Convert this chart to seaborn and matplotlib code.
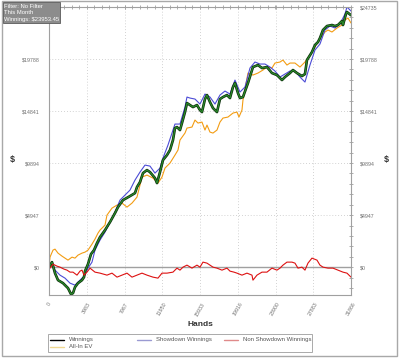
import matplotlib
matplotlib.use("Agg")
import matplotlib.pyplot as plt
import matplotlib.patheffects as pe
from matplotlib.patches import Rectangle
from matplotlib.lines import Line2D
from matplotlib.ticker import MultipleLocator, FuncFormatter
import seaborn as sns

# Winnings
win_hands = [0, 317, 633, 950, 1477, 2005, 2321, 2532, 2743, 3060, 3482, 3693, 3798, 4115, 4431, 4748,
             5064, 5381, 5908, 6436, 6963, 7280, 7807, 8546, 9073, 9284, 9601, 9918, 10339, 10656, 11183,
             11394, 11712, 12027, 12449, 12766, 13082, 13293, 13504, 13821, 14032, 14348, 14559, 14876,
             15192, 15614, 15931, 16141, 16458, 16669, 16985, 17302, 17513, 17724, 18041, 18357, 18779,
             19096, 19412, 19623, 19940, 20151, 20467, 20995, 21522, 22050, 22472, 22999, 23527, 24054,
             24582, 24898, 25426, 25742, 26164, 26692, 27009, 27220, 27748, 28065, 28381, 28592, 28909,
             29331, 29858, 30175, 30491, 30913, 31019, 31334, 31440, 31866]
win_vals = [0, 476, -571, -1237, -1522, -1998, -2569, -2473, -1903, -1522, -1237, -951, -381, 285, 1237,
            1617, 2283, 2854, 3520, 4281, 5137, 5708, 6374, 6754, 7040, 7610, 8086, 8942, 9228, 9037, 8467,
            7991, 9037, 10179, 10655, 11130, 12082, 13223, 13318, 13033, 13699, 14745, 15601, 15411, 15221,
            15411, 14935, 14745, 15982, 16362, 15696, 15126, 14935, 14745, 15982, 16172, 16362, 16077, 17123,
            17504, 16553, 16077, 16172, 17504, 19026, 19216, 18931, 19026, 18455, 18265, 17789, 18075, 18455,
            18741, 18455, 18170, 18360, 19692, 20453, 21119, 21405, 21785, 22546, 22927, 23022, 22927, 23022,
            23402, 23022, 24068, 24258, 23953]

# Showdown winnings
sd_hands = [0, 317, 633, 1161, 1688, 2216, 2743, 3271, 3798, 4115, 4537, 4853, 5381, 5908, 6436, 6963,
            7491, 8018, 8546, 9073, 9601, 10128, 10656, 11183, 11712, 12027, 12554, 13082, 13293, 13821,
            14348, 14559, 14876, 15403, 15931, 16458, 16985, 17513, 18041, 18568, 19096, 19623, 20151,
            20678, 21206, 21733, 22261, 22788, 23316, 23843, 24371, 24898, 25426, 25953, 26481, 27009,
            27537, 28065, 28592, 29120, 29648, 30175, 30702, 31230, 31440, 31866]
sd_vals = [0, 476, -285, -761, -1046, -1522, -1712, -1237, -761, -95, 476, 1617, 2569, 3330, 4281, 5232,
           6374, 6849, 7325, 8276, 9037, 9703, 9608, 8942, 9418, 10369, 11606, 13033, 13604, 13604, 15221,
           16172, 16077, 15982, 15506, 16458, 16172, 15506, 16362, 16743, 16458, 17789, 16648, 17123, 18931,
           19502, 19311, 19311, 19026, 18646, 18075, 18360, 18646, 18646, 18075, 17599, 19216, 20643, 21214,
           22546, 22927, 22736, 23117, 24068, 24735, 24353]

# Non showdown winnings
ns_hands = [0, 106, 422, 844, 1161, 1583, 1899, 2216, 2532, 2954, 3271, 3482, 3693, 4009, 4326, 4853,
            5381, 6119, 6647, 7175, 7702, 8229, 8757, 9284, 9812, 10339, 10972, 11500, 11922, 12449, 13082,
            13504, 13821, 14138, 14559, 15087, 15614, 15931, 16247, 16669, 16985, 17302, 17724, 18252,
            18779, 19096, 19518, 19834, 20362, 20889, 21417, 21522, 21944, 22472, 22999, 23527, 24054,
            24371, 24687, 25109, 25637, 25953, 26270, 26692, 27009, 27326, 27748, 28276, 28592, 28909,
            29437, 29964, 30491, 31019, 31440, 31866]
ns_vals = [0, -95, 285, 95, 0, -190, -285, -476, -476, -761, -380, -285, -761, -476, -95, -476, -571,
           -761, -571, -951, -761, -571, -951, -761, -571, -761, -951, -1046, -571, -571, -476, -95, -285,
           0, 190, -95, 190, 0, 476, 380, 190, 0, -95, -285, -95, -380, -476, -571, -761, -571, -761, -1237,
           -761, -476, -476, -95, -285, -95, 190, 476, 476, 380, -95, 0, -285, 380, 856, 666, 190, 0, -95,
           -95, -285, -476, -571, -951]

# All-in EV
ev_hands = [0, 106, 422, 633, 950, 1372, 1688, 2005, 2427, 2743, 3060, 3482, 3798, 4115, 4537, 4853,
            5170, 5381, 5908, 6119, 6647, 7175, 7702, 8229, 8757, 9284, 9812, 10339, 10972, 11500, 11922,
            12238, 12766, 13293, 13610, 13821, 14348, 14559, 15087, 15403, 15720, 16141, 16458, 16669,
            16985, 17302, 17724, 18041, 18357, 18884, 19412, 19834, 20045, 20362, 20467, 20995, 21522,
            22050, 22577, 22999, 23527, 23843, 24371, 24687, 25109, 25426, 25953, 26481, 27009, 27537,
            28065, 28592, 29120, 29437, 29858, 30386, 30913, 31230, 31545, 31866]
ev_vals = [0, 951, 1617, 1712, 1332, 1046, 856, 666, 951, 856, 1142, 1332, 1427, 1617, 2188, 2664, 3234,
           3520, 3995, 4947, 5613, 5898, 6088, 5708, 6088, 6659, 8562, 8752, 8467, 7991, 8562, 9418, 9894,
           10655, 11130, 12082, 12747, 13223, 13318, 13984, 13699, 13794, 13033, 13509, 12842, 12747, 13033,
           13794, 14174, 14270, 14650, 14745, 14270, 14935, 15887, 18455, 18265, 18455, 18741, 19026, 18931,
           19406, 19502, 19692, 19216, 19406, 19406, 19026, 19502, 20168, 20929, 21785, 22356, 22546, 22356,
           22736, 23022, 23497, 23687, 23212]

x_ticks = [0, 3983, 7967, 11950, 15933, 19916, 23900, 27883, 31866]
y_ticks = [0, 4947, 9894, 14841, 19788, 24735]
info_lines = ["Filter: No Filter", "This Month", "Winnings: $23953.45"]
legend_names = ["Winnings", "Showdown Winnings", "Non Showdown Winnings", "All-In EV"]

sns.set_style("white")
plt.rcParams["font.family"] = ["Liberation Sans", "DejaVu Sans"]

W, H = 400, 358
fig = plt.figure(figsize=(W / 100, H / 100), dpi=100)
ax = fig.add_axes([49 / W, 1 - 295 / H, 302 / W, 288 / H])

def fx(px):
    return px / W

def fy(py):
    return 1 - py / H

grey = "#a0a0a0"
ax.axhline(0, color=grey, lw=1.0, zorder=1)

sns.lineplot(x=ev_hands, y=ev_vals, ax=ax, color="#f39c12", lw=0.8, estimator=None, sort=False)
sns.lineplot(x=sd_hands, y=sd_vals, ax=ax, color="#4b4bd6", lw=0.8, estimator=None, sort=False)
sns.lineplot(x=win_hands, y=win_vals, ax=ax, color="#2a8a2a", lw=0.9, estimator=None, sort=False,
             path_effects=[pe.Stroke(linewidth=1.9, foreground="#0a2a0a"), pe.Normal()])
sns.lineplot(x=ns_hands, y=ns_vals, ax=ax, color="#dd1111", lw=0.8, estimator=None, sort=False)

ax.set_xlim(0, 31866)
ax.set_ylim(-2650, 24735)
ax.set_xticks(x_ticks)
ax.set_yticks(y_ticks)
ax.xaxis.set_minor_locator(MultipleLocator(31866 / 40))
ax.yaxis.set_minor_locator(MultipleLocator(4947 / 5))
ax.yaxis.set_major_formatter(FuncFormatter(lambda v, p: f"${v:.0f}"))
ax.grid(True, which="major", linestyle=(0, (1, 2.5)), color="#c4c4c4", lw=0.6)

for s in ax.spines.values():
    s.set_color(grey)
    s.set_linewidth(0.8)

ax.tick_params(axis="both", which="both", direction="inout", length=3.5, width=0.6, color=grey,
               labelcolor="#707070", labelsize=3.8, top=True, right=True, labelright=True)
ax.tick_params(axis="y", which="major", pad=5)
ax.tick_params(axis="x", which="major", pad=3)
for lab in ax.get_xticklabels():
    lab.set_rotation(60)
# the info box hides the top-left label in the original
ax.yaxis.get_major_ticks()[-1].label1.set_visible(False)

ax.set_xlabel("Hands", fontsize=6, fontweight="bold", color="#333333")
ax.xaxis.set_label_coords(0.5, -0.104)
ax.xaxis.label.set_va("center")
ax.set_ylabel("")
ax.text(-0.123, 0.469, "$", transform=ax.transAxes, fontsize=6.5, fontweight="bold",
        color="#333333", ha="center", va="center")
ax.text(1.116, 0.469, "$", transform=ax.transAxes, fontsize=6.5, fontweight="bold",
        color="#333333", ha="center", va="center")

# info box
fig.patches.append(Rectangle((fx(3), fy(22.5)), 57 / W, 21 / H, transform=fig.transFigure,
                             facecolor="#8c8c8c", edgecolor="#5a5a5a", lw=0.6, zorder=5))
for i, line in enumerate(info_lines):
    fig.text(fx(4.5), fy(6 + 6.6 * i), line, fontsize=4.2, color="white", va="center", ha="left",
             zorder=6)

# legend
fig.patches.append(Rectangle((fx(48), fy(352)), 264 / W, 18 / H, transform=fig.transFigure,
                             facecolor="white", edgecolor="#aaaaaa", lw=0.7, zorder=5))
leg_colors = ["#000000", "#9a9ad2", "#e08a8a", "#f0d890"]
leg_pos = [(50, 339.5), (137, 339.5), (224, 339.5), (50, 346.5)]
for name, c, (lx, ly) in zip(legend_names, leg_colors, leg_pos):
    fig.add_artist(Line2D([fx(lx), fx(lx + 14)], [fy(ly), fy(ly)], color=c, lw=1.0, zorder=6))
    fig.text(fx(lx + 19), fy(ly), name, fontsize=4.3, color="#555555", va="center", ha="left", zorder=6)

# outer frame
fig.patches.append(Rectangle((fx(2), fy(356)), 395 / W, 355 / H, transform=fig.transFigure,
                             facecolor="none", edgecolor="#a8a8a8", lw=1.0, zorder=4))

fig.savefig("out.png", dpi=100)
